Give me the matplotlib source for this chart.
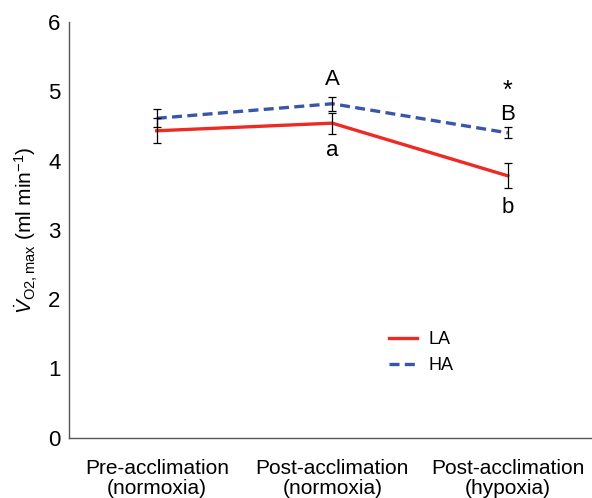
import matplotlib
matplotlib.use("Agg")
import matplotlib.pyplot as plt

plt.rcParams['font.family'] = ['Liberation Sans', 'DejaVu Sans']
plt.rcParams['mathtext.fontset'] = 'custom'
plt.rcParams['mathtext.rm'] = 'Liberation Sans'
plt.rcParams['mathtext.it'] = 'Liberation Sans:italic'

categories = ["Pre-acclimation\n(normoxia)", "Post-acclimation\n(normoxia)", "Post-acclimation\n(hypoxia)"]
la_mean = [4.43, 4.54, 3.78]
la_err = [0.18, 0.15, 0.18]
ha_mean = [4.61, 4.82, 4.40]
ha_err = [0.13, 0.10, 0.08]
yticks = [0, 1, 2, 3, 4, 5, 6]

red = '#EE2A24'
blue = '#3A56A6'

fig = plt.figure(figsize=(5.92, 4.98), dpi=100)
ax = fig.add_axes([69/592, 1 - 437.7/498, (592-69)/592, (437.7-22)/498])
x = list(range(len(categories)))

ax.errorbar(x, la_mean, yerr=la_err, fmt='none', ecolor='black', elinewidth=0.9, capsize=2.8, capthick=0.9, zorder=3)
ax.errorbar(x, ha_mean, yerr=ha_err, fmt='none', ecolor='black', elinewidth=0.9, capsize=2.8, capthick=0.9, zorder=3)
ax.plot(x, la_mean, color=red, lw=2.4, label='LA', zorder=2)
ax.plot(x, ha_mean, color=blue, lw=2.4, ls=(0, (3, 1.6)), label='HA', zorder=2)

ax.set_xlim(-0.5, 2.48)
ax.set_ylim(0, 6)
ax.set_yticks(yticks)
ax.set_xticks(x)
ax.set_xticklabels(categories, fontsize=15, linespacing=1.12)
ax.tick_params(axis='y', length=0, pad=6, labelsize=16)
ax.tick_params(axis='x', length=0, pad=15)
for s in ['top', 'right']:
    ax.spines[s].set_visible(False)
for s in ['left', 'bottom']:
    ax.spines[s].set_color('#555555')
    ax.spines[s].set_linewidth(1.0)

ax.set_ylabel(r'$\dot{V}_{\mathrm{O2,max}}$ (ml min$^{-1}$)', fontsize=15, labelpad=6)

ax.text(1, 5.17, 'A', ha='center', va='center', fontsize=16)
ax.text(1, 4.14, 'a', ha='center', va='center', fontsize=16)
ax.text(2, 5.0, '*', ha='center', va='center', fontsize=18)
ax.text(2, 4.67, 'B', ha='center', va='center', fontsize=16)
ax.text(2, 3.32, 'b', ha='center', va='center', fontsize=16)

ax.legend(loc='upper left', bbox_to_anchor=(0.58, 0.295), frameon=False, fontsize=13,
          handlelength=1.6, handletextpad=0.6, labelspacing=0.5)

fig.savefig('out.png', dpi=100)
